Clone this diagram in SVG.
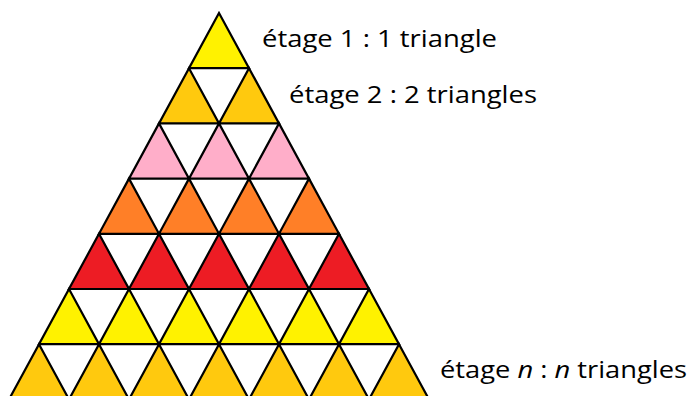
<svg xmlns="http://www.w3.org/2000/svg" xmlns:xlink="http://www.w3.org/1999/xlink" width="690" height="396" viewBox="0 0 690 396">
<style>
.t{stroke:#000;stroke-width:2.2;stroke-linejoin:miter}
.y{fill:#FFF200}.g{fill:#FFC90E}.p{fill:#FFAEC9}.o{fill:#FF7F27}.r{fill:#ED1C24}
.lbl{font-family:"Open Sans","Noto Sans",sans-serif;font-size:24px;fill:#000}
</style>
<defs><polygon id="tri" points="0,0 -30,55.2 30,55.2"/></defs>
<rect width="690" height="396" fill="#fff"/>
<g id="pyramid">
<g id="row1"><use xlink:href="#tri" href="#tri" class="t y" x="219" y="13"/></g>
<g id="row2" class="t g">
<use href="#tri" x="189" y="68.2"/><use href="#tri" x="249" y="68.2"/>
</g>
<g id="row3" class="t p">
<use href="#tri" x="159" y="123.4"/><use href="#tri" x="219" y="123.4"/><use href="#tri" x="279" y="123.4"/>
</g>
<g id="row4" class="t o">
<use href="#tri" x="129" y="178.6"/><use href="#tri" x="189" y="178.6"/><use href="#tri" x="249" y="178.6"/><use href="#tri" x="309" y="178.6"/>
</g>
<g id="row5" class="t r">
<use href="#tri" x="99" y="233.8"/><use href="#tri" x="159" y="233.8"/><use href="#tri" x="219" y="233.8"/><use href="#tri" x="279" y="233.8"/><use href="#tri" x="339" y="233.8"/>
</g>
<g id="row6" class="t y">
<use href="#tri" x="69" y="289"/><use href="#tri" x="129" y="289"/><use href="#tri" x="189" y="289"/><use href="#tri" x="249" y="289"/><use href="#tri" x="309" y="289"/><use href="#tri" x="369" y="289"/>
</g>
<g id="row7" class="t g">
<use href="#tri" x="39" y="344.2"/><use href="#tri" x="99" y="344.2"/><use href="#tri" x="159" y="344.2"/><use href="#tri" x="219" y="344.2"/><use href="#tri" x="279" y="344.2"/><use href="#tri" x="339" y="344.2"/><use href="#tri" x="399" y="344.2"/>
</g>
</g>
<g id="labels">
<text class="lbl" x="262" y="47" textLength="235" lengthAdjust="spacingAndGlyphs">étage 1 : 1 triangle</text>
<text class="lbl" x="289" y="103" textLength="248" lengthAdjust="spacingAndGlyphs">étage 2 : 2 triangles</text>
<text class="lbl" x="440" y="378" textLength="247" lengthAdjust="spacingAndGlyphs">étage <tspan font-style="italic">n</tspan> : <tspan font-style="italic">n</tspan> triangles</text>
</g>
</svg>
